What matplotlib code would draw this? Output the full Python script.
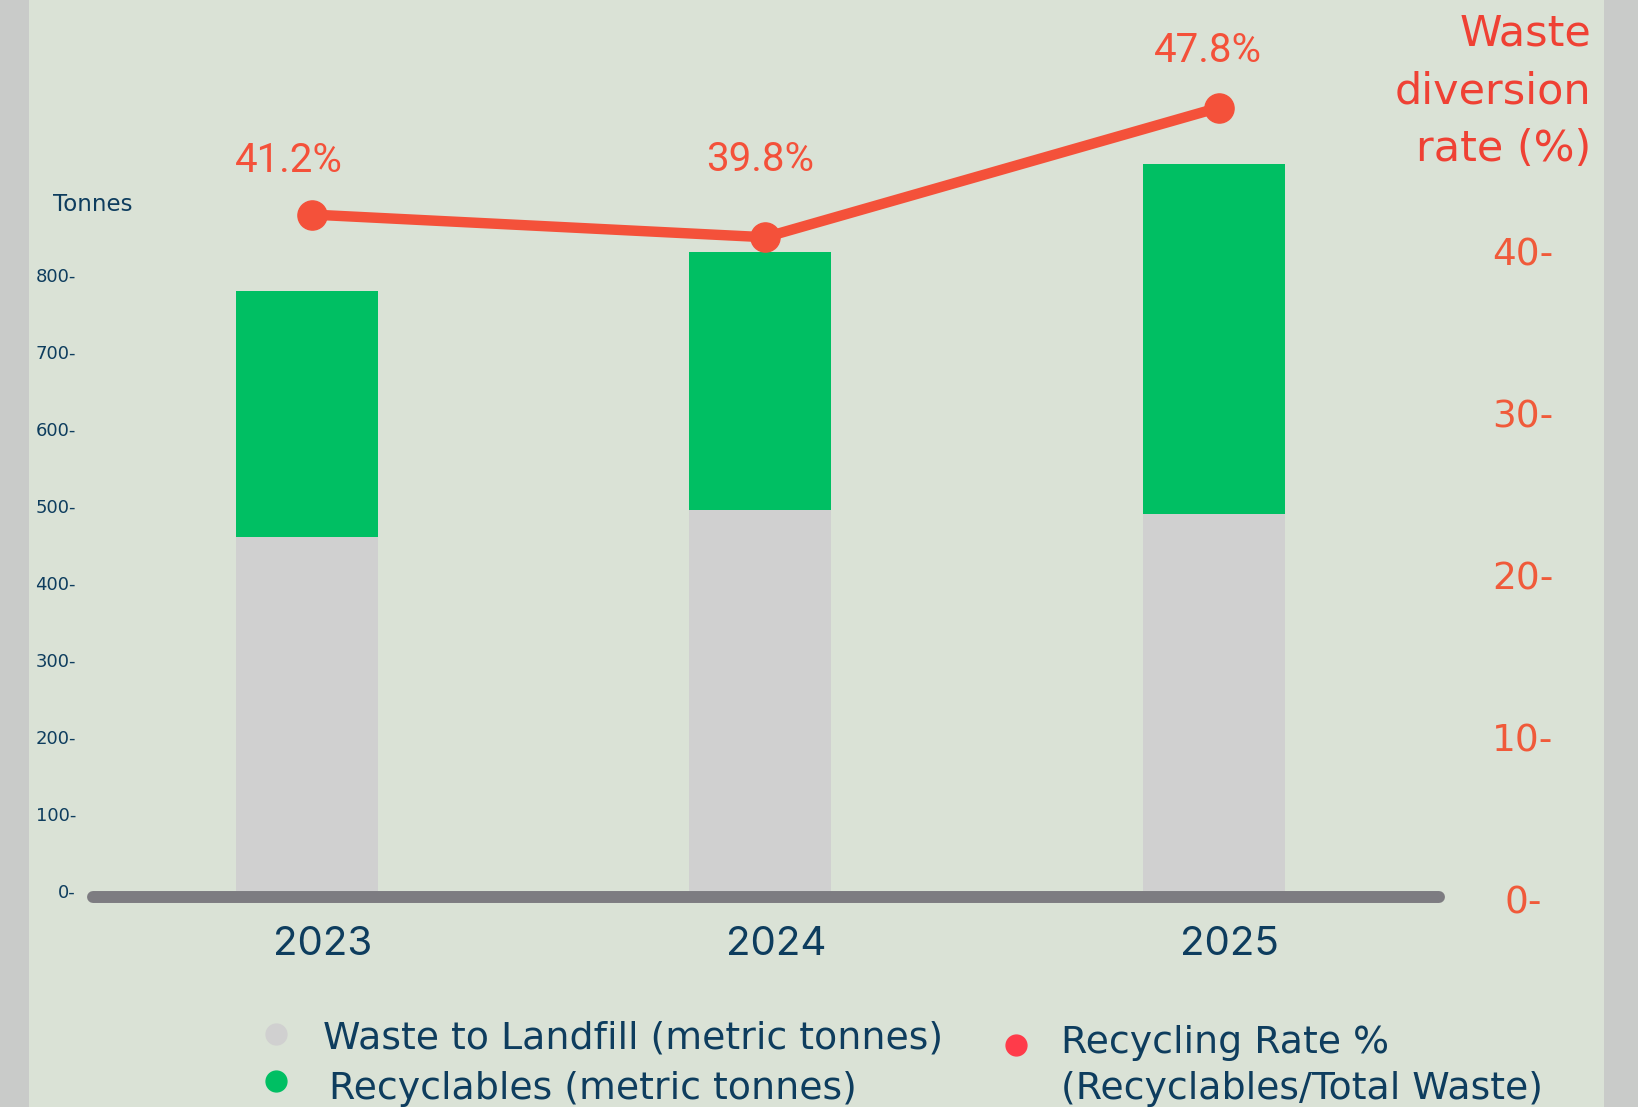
import matplotlib
matplotlib.use("Agg")
import matplotlib.pyplot as plt
import matplotlib.transforms as mtransforms
from matplotlib.patches import Rectangle
from matplotlib.lines import Line2D

# data
years = ["2023", "2024", "2025"]
landfill = [460, 495, 490]
recyclables = [320, 335, 455]
rate = [41.2, 39.8, 47.8]
rate_labels = ["41.2%", "39.8%", "47.8%"]

left_ticks = [0, 100, 200, 300, 400, 500, 600, 700, 800]
right_ticks = [0, 10, 20, 30, 40]

GRAY = "#D0D0D0"
GREEN = "#00BF63"
LINE_RED = "#F4513A"
DOT_RED = "#FF3B4A"
NAVY = "#0E3D5E"
BASE = "#7D7C81"
BG = "#DAE2D6"
BORDER = "#C9CBC9"

W, H = 1638, 1107
fig = plt.figure(figsize=(W / 100, H / 100), dpi=100)
fig.patch.set_facecolor(BORDER)
fig.add_artist(Rectangle((29 / W, 0), (1604 - 29) / W, 1, transform=fig.transFigure,
                         facecolor=BG, edgecolor="none", zorder=0))

ax = fig.add_axes([87 / W, (H - 891) / H, (1445 - 87) / W, 891 / H])
ax.set_facecolor("none")
x = list(range(len(years)))
ax.bar(x, landfill, width=0.313, color=GRAY, zorder=2)
ax.bar(x, recyclables, width=0.313, bottom=landfill, color=GREEN, zorder=2)
ax.set_xlim(-0.485, 2.51)
ax.set_ylim(0, 891 / 0.7697)
for s in ax.spines.values():
    s.set_visible(False)

# thick rounded baseline just under the bars
base_tr = mtransforms.offset_copy(
    mtransforms.blended_transform_factory(ax.transAxes, ax.transData),
    fig=fig, x=0, y=-6, units="dots")
ax.plot([0.0045, 0.9955], [0, 0], transform=base_tr, color=BASE, lw=8.6,
        solid_capstyle="round", zorder=3, clip_on=False)

ax.set_yticks(left_ticks)
ax.set_yticklabels([f"{t}-" for t in left_ticks])
ax.tick_params(axis="y", length=0, pad=8, labelsize=13, labelcolor=NAVY)
ax.set_xticks(x)
ax.set_xticklabels(years, fontfamily="Inter", fontsize=29, color=NAVY)
ax.tick_params(axis="x", length=0, pad=25)
shift = mtransforms.ScaledTranslation(16 / 100, 0, fig.dpi_scale_trans)
for lab in ax.get_xticklabels():
    lab.set_transform(lab.get_transform() + shift)

ax2 = ax.twinx()
ax2.set_facecolor("none")
ax2.set_ylim(-9 / 16.2, 882 / 16.2)
for s in ax2.spines.values():
    s.set_visible(False)
line_shift = mtransforms.ScaledTranslation(5 / 100, 0, fig.dpi_scale_trans)
ax2.plot(x, rate, color=LINE_RED, lw=7.5, marker="o", markersize=21, zorder=4,
         transform=ax2.transData + line_shift)
ax2.set_yticks(right_ticks)
ax2.set_yticklabels([f"{t}-" for t in right_ticks])
ax2.tick_params(axis="y", length=0, pad=56, labelsize=27, labelcolor="#F05A3A")
down = mtransforms.ScaledTranslation(0, -17 / 100, fig.dpi_scale_trans)
for lab in ax2.get_yticklabels():
    lab.set_horizontalalignment("center")
    lab.set_transform(lab.get_transform() + down)

label_offsets = [(-13, 39), (0, 56), (-4, 41.5)]
for xi, r, txt, off in zip(x, rate, rate_labels, label_offsets):
    ax2.annotate(txt, (xi, r), xytext=off, textcoords="offset points",
                 ha="center", va="center", fontsize=29, color=LINE_RED,
                 fontfamily="Roboto")

fig.text(53 / W, 1 - 205 / H, "Tonnes", fontsize=16.5, color=NAVY, ha="left", va="center")
fig.text(1591 / W, 1 - 91 / H, "Waste\ndiversion\nrate (%)", fontsize=31, color="#EF4134",
         ha="right", va="center", linespacing=1.48)

# legend drawn by hand to match layout
def dot(px, py, color):
    fig.add_artist(Line2D([px / W], [1 - py / H], transform=fig.transFigure, marker="o",
                          markersize=15, color=color, linestyle="none"))

dot(276, 1034, GRAY)
dot(276, 1081, GREEN)
dot(1016, 1045, DOT_RED)
leg_kw = dict(fontsize=27.3, color=NAVY, ha="left", va="center")
fig.text(323 / W, 1 - 1038 / H, "Waste to Landfill (metric tonnes)", **leg_kw)
fig.text(329 / W, 1 - 1089 / H, "Recyclables (metric tonnes)", **leg_kw)
fig.text(1061 / W, 1 - 1043 / H, "Recycling Rate %", **leg_kw)
fig.text(1061 / W, 1 - 1089 / H, "(Recyclables/Total Waste)", **leg_kw)

fig.savefig("out.png", dpi=100, facecolor=fig.get_facecolor())
